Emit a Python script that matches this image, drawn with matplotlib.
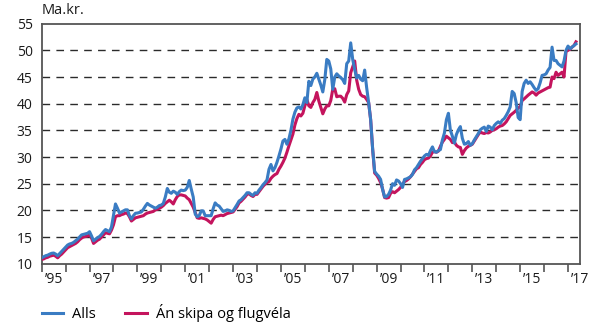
import matplotlib.pyplot as plt
import numpy as np

plt.rcParams['font.family'] = ['Open Sans', 'DejaVu Sans']

# monthly values, Jan 1995 - May 2017 (ma.kr.)
alls = [
    11.1, 11.3, 11.5, 11.6, 11.8, 11.95, 12.0, 11.8, 11.5, 11.9, 12.3, 12.7,   # 1995
    13.1, 13.5, 13.7, 13.8, 14.0, 14.3, 14.6, 15.0, 15.4, 15.5, 15.6, 15.7,    # 1996
    16.0, 15.2, 14.3, 14.6, 14.9, 15.1, 15.5, 16.0, 16.4, 16.2, 16.0, 16.9,    # 1997
    19.0, 21.2, 20.4, 19.5, 19.7, 19.9, 20.1, 20.1, 19.0, 18.4, 19.0, 19.45,   # 1998
    19.5, 19.6, 19.7, 20.2, 20.8, 21.3, 21.0, 20.8, 20.6, 20.4, 20.6, 20.9,    # 1999
    21.0, 21.3, 22.5, 24.1, 23.4, 23.2, 23.6, 23.4, 23.0, 23.5, 23.8, 23.7,    # 2000
    23.8, 24.3, 25.6, 24.0, 22.5, 19.3, 18.8, 19.0, 19.9, 19.9, 19.0, 19.0,    # 2001
    19.0, 19.0, 20.3, 21.4, 21.0, 20.8, 20.3, 19.8, 19.9, 20.1, 20.0, 19.8,    # 2002
    19.9, 20.5, 21.1, 21.75, 22.0, 22.4, 22.8, 23.3, 23.3, 23.0, 22.8, 23.3,   # 2003
    23.2, 23.8, 24.25, 24.8, 25.2, 25.7, 27.7, 28.6, 27.4, 28.0, 29.0, 30.2,   # 2004
    31.5, 33.0, 33.3, 32.4, 33.4, 35.0, 37.1, 38.4, 39.2, 39.4, 39.0, 39.8,    # 2005
    41.1, 40.2, 44.2, 43.4, 44.6, 45.0, 45.7, 44.6, 43.5, 42.2, 44.5, 48.3,    # 2006
    48.0, 46.5, 42.7, 45.0, 45.6, 45.2, 44.9, 44.5, 43.8, 47.5, 48.0, 51.4,    # 2007
    48.3, 46.4, 44.8, 45.3, 44.6, 44.3, 46.3, 43.0, 40.2, 37.0, 31.5, 27.3,    # 2008
    26.8, 26.4, 25.8, 23.9, 22.5, 22.6, 23.0, 23.8, 25.0, 24.7, 25.7, 25.5,    # 2009
    25.0, 24.3, 25.8, 25.9, 26.1, 26.3, 26.75, 27.6, 28.0, 28.6, 29.2, 29.7,   # 2010
    30.2, 30.5, 30.3, 31.2, 31.9, 31.0, 30.9, 31.2, 31.4, 33.2, 34.5, 37.0,    # 2011
    38.2, 35.0, 33.9, 32.6, 34.2, 35.1, 35.7, 33.5, 32.4, 32.5, 32.9, 32.2,    # 2012
    32.5, 33.2, 33.8, 34.4, 35.1, 35.4, 35.6, 34.8, 35.8, 35.6, 35.1, 35.9,    # 2013
    36.3, 36.6, 36.3, 36.9, 37.2, 37.8, 38.5, 39.4, 42.3, 41.9, 40.2, 37.4,    # 2014
    37.0, 42.3, 43.8, 44.4, 43.8, 44.1, 43.6, 43.0, 42.5, 42.8, 43.9, 45.3,    # 2015
    45.4, 45.6, 46.3, 46.8, 50.6, 48.1, 48.1, 47.5, 47.2, 46.9, 48.0, 50.0,    # 2016
    50.8, 50.3, 50.6, 50.9, 51.2,                                              # 2017
]

an_skipa = [
    10.8, 10.9, 11.1, 11.2, 11.4, 11.5, 11.6, 11.4, 11.1, 11.5, 11.8, 12.2,    # 1995
    12.6, 13.0, 13.2, 13.4, 13.6, 13.8, 14.1, 14.5, 14.8, 15.0, 15.1, 15.2,    # 1996
    15.4, 14.8, 13.8, 14.1, 14.4, 14.6, 15.0, 15.4, 15.8, 15.7, 15.6, 16.3,    # 1997
    17.3, 18.8, 19.0, 19.0, 19.2, 19.3, 19.5, 19.4, 18.8, 18.0, 18.3, 18.6,    # 1998
    18.7, 18.8, 18.9, 19.0, 19.3, 19.5, 19.6, 19.7, 19.8, 20.1, 20.2, 20.4,    # 1999
    20.6, 20.9, 21.3, 21.6, 21.9, 21.6, 21.2, 22.0, 22.6, 22.9, 22.9, 22.8,    # 2000
    22.7, 22.3, 22.0, 21.3, 20.6, 19.6, 18.6, 18.5, 18.6, 18.5, 18.4, 18.2,    # 2001
    17.9, 17.6, 18.3, 18.8, 18.9, 19.0, 19.1, 19.0, 19.2, 19.4, 19.5, 19.6,    # 2002
    19.7, 20.2, 20.7, 21.4, 21.7, 22.1, 22.5, 23.0, 23.1, 22.8, 22.6, 23.0,    # 2003
    23.0, 23.5, 24.0, 24.5, 24.9, 25.2, 25.4, 26.0, 26.4, 26.7, 26.9, 27.7,    # 2004
    28.3, 29.0, 29.8, 30.9, 32.1, 33.2, 34.3, 36.0, 37.2, 38.0, 37.7, 38.2,    # 2005
    39.6, 40.8, 39.6, 39.3, 40.2, 40.8, 42.1, 40.5, 39.3, 38.1, 39.0, 39.6,    # 2006
    39.6, 40.6, 42.7, 42.8, 41.3, 41.4, 41.4, 41.0, 40.3, 41.7, 42.4, 45.8,    # 2007
    46.9, 48.0, 44.4, 42.7, 41.7, 41.4, 41.3, 40.8, 40.2, 37.0, 31.5, 27.0,    # 2008
    26.6, 26.0, 25.2, 24.0, 22.4, 22.3, 22.4, 23.2, 23.5, 23.3, 23.6, 23.9,    # 2009
    24.3, 24.9, 25.4, 25.6, 25.9, 26.3, 26.8, 27.3, 27.8, 28.0, 28.6, 29.0,    # 2010
    29.5, 29.7, 29.8, 30.2, 30.9, 31.0, 30.9, 31.1, 32.0, 32.8, 33.3, 33.9,    # 2011
    33.6, 33.3, 32.7, 32.8, 32.2, 31.9, 31.8, 30.5, 31.2, 31.7, 32.0, 32.2,    # 2012
    32.4, 33.0, 33.6, 34.2, 34.7, 34.5, 34.4, 34.6, 34.5, 34.7, 35.0, 35.1,    # 2013
    35.3, 35.6, 35.8, 35.9, 36.2, 36.6, 37.2, 37.8, 38.1, 38.4, 38.75, 39.2,   # 2014
    39.4, 40.6, 40.9, 41.25, 41.6, 41.9, 42.2, 42.0, 41.6, 42.0, 42.2, 42.4,   # 2015
    42.6, 42.8, 43.0, 43.1, 45.0, 44.7, 45.9, 45.3, 45.6, 45.9, 45.0, 49.8,    # 2016
    50.0, 50.2, 50.6, 50.9, 51.6,                                              # 2017
]

years = np.arange(1995, 2018)
year_labels = ['\u2019%02d' % (y % 100) for y in years[::2]]

t = 1995 + np.arange(len(alls)) / 12.

fig = plt.figure(figsize=(5.9, 3.27), dpi=100)
ax = fig.add_axes([0.0707, 0.1936, 0.9123, 0.734])

for v in range(15, 55, 5):
    ax.axhline(v, color='#2b2b2b', lw=1.0, dashes=(5.5, 4.5), zorder=1)

ax.plot(t, an_skipa, color='#c4145d', lw=2.2, zorder=3, label='Án skipa og flugvéla')
ax.plot(t, alls, color='#3a7cc3', lw=2.2, zorder=4, label='Alls')

ax.set_xlim(1995, 2017.43)
ax.set_ylim(10, 55)
ax.set_yticks(range(10, 60, 5))
ax.tick_params(axis='y', length=0, labelsize=10, pad=6.5, colors='#1a1a1a')

# year ticks at year boundaries, labels centred on every other year
ax.set_xticks(years)
ax.set_xticklabels([])
ax.set_xticks(years[::2] + 0.5, minor=True)
ax.set_xticklabels(year_labels, minor=True)
ax.tick_params(axis='x', which='major', length=6, width=1.2, color='#555555', direction='out')
ax.tick_params(axis='x', which='minor', length=0, labelsize=10, pad=6, colors='#1a1a1a')

for s in ax.spines.values():
    s.set_color('#555555')
    s.set_linewidth(1.3)

fig.text(0.071, 0.945, 'Ma.kr.', fontsize=10.5, color='#1a1a1a', va='bottom')

h, l = ax.get_legend_handles_labels()
fig.legend(h[::-1], l[::-1], loc='center left', bbox_to_anchor=(0.058, 0.043), ncol=2,
           frameon=False, fontsize=10.5, borderpad=0, handlelength=1.5,
           columnspacing=2.0, handletextpad=0.6)

fig.savefig('out.png', dpi=100)
